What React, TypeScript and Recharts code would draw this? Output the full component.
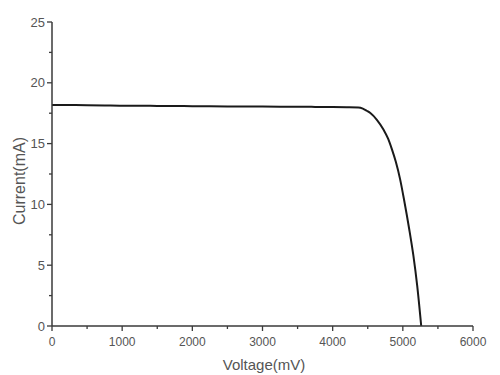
import React from 'react';
import { LineChart, Line, XAxis, YAxis } from 'recharts';

// I-V curve
const voltage = [0, 250, 500, 750, 1000, 1250, 1500, 1750, 2000, 2250, 2500, 2750, 3000, 3250, 3500, 3750, 4000, 4200, 4365, 4430, 4486, 4537, 4630, 4726, 4790, 4846, 4900, 4960, 5020, 5090, 5150, 5205, 5262];
const current = [18.18, 18.17, 18.16, 18.14, 18.12, 18.12, 18.1, 18.09, 18.08, 18.07, 18.06, 18.06, 18.05, 18.04, 18.03, 18.02, 18.0, 17.99, 17.97, 17.88, 17.7, 17.51, 16.95, 16.13, 15.4, 14.5, 13.5, 12.1, 10.3, 8.0, 5.8, 3.3, 0];

const xTicks = [0, 500, 1000, 1500, 2000, 2500, 3000, 3500, 4000, 4500, 5000, 5500, 6000];
const yTicks = [0, 2.5, 5, 7.5, 10, 12.5, 15, 17.5, 20, 22.5, 25];

const data = voltage.map((v, i) => ({ v, i: current[i] }));

const AXIS = '#3a3a3a';
const LABEL = '#555';
const FONT = '"Liberation Sans", Arial, sans-serif';

const XTick = (props: any) => {
  const { x, y, payload } = props;
  const major = payload.value % 1000 === 0;
  return (
    <g>
      <line x1={x} x2={x} y1={y} y2={y + (major ? 5 : 3)} stroke={AXIS} strokeWidth={1.3} />
      {major && (
        <text x={x} y={y + 20} textAnchor="middle" fontSize={12} fill={LABEL} fontFamily={FONT}>
          {payload.value}
        </text>
      )}
    </g>
  );
};

const YTick = (props: any) => {
  const { x, y, payload } = props;
  const major = payload.value % 5 === 0;
  return (
    <g>
      <line x1={x} x2={x - (major ? 5 : 3)} y1={y} y2={y} stroke={AXIS} strokeWidth={1.3} />
      {major && (
        <text x={x - 7} y={y + 4.5} textAnchor="end" fontSize={13} fill={LABEL} fontFamily={FONT}>
          {payload.value}
        </text>
      )}
    </g>
  );
};

const xLabel = () => (
  <text x={264} y={364} textAnchor="middle" dominantBaseline="central" fontSize={15} fill={LABEL} fontFamily={FONT}>
    Voltage(mV)
  </text>
);

const yLabel = () => (
  <text x={19} y={181} transform="rotate(-90 19 181)" textAnchor="middle" dominantBaseline="central" fontSize={16} fill={LABEL} fontFamily={FONT}>
    Current(mA)
  </text>
);

export default function App() {
  return (
    <div style={{ position: 'absolute', left: 0, top: 0, background: '#fff' }}>
      <LineChart width={500} height={375} data={data} margin={{ top: 22, right: 27, left: 0, bottom: 0 }}>
        <XAxis
          dataKey="v"
          type="number"
          domain={[0, 6000]}
          ticks={xTicks}
          interval={0}
          tickSize={0}
          tickMargin={0}
          tickLine={false}
          tick={<XTick />}
          height={49}
          axisLine={{ stroke: AXIS, strokeWidth: 1.5 }}
          label={xLabel}
        />
        <YAxis
          type="number"
          domain={[0, 25]}
          ticks={yTicks}
          interval={0}
          tickSize={0}
          tickMargin={0}
          tickLine={false}
          tick={<YTick />}
          width={52}
          axisLine={{ stroke: AXIS, strokeWidth: 1.5 }}
          label={yLabel}
        />
        <Line type="monotone" dataKey="i" stroke="#1a1a1a" strokeWidth={2} dot={false} isAnimationActive={false} />
      </LineChart>
    </div>
  );
}
